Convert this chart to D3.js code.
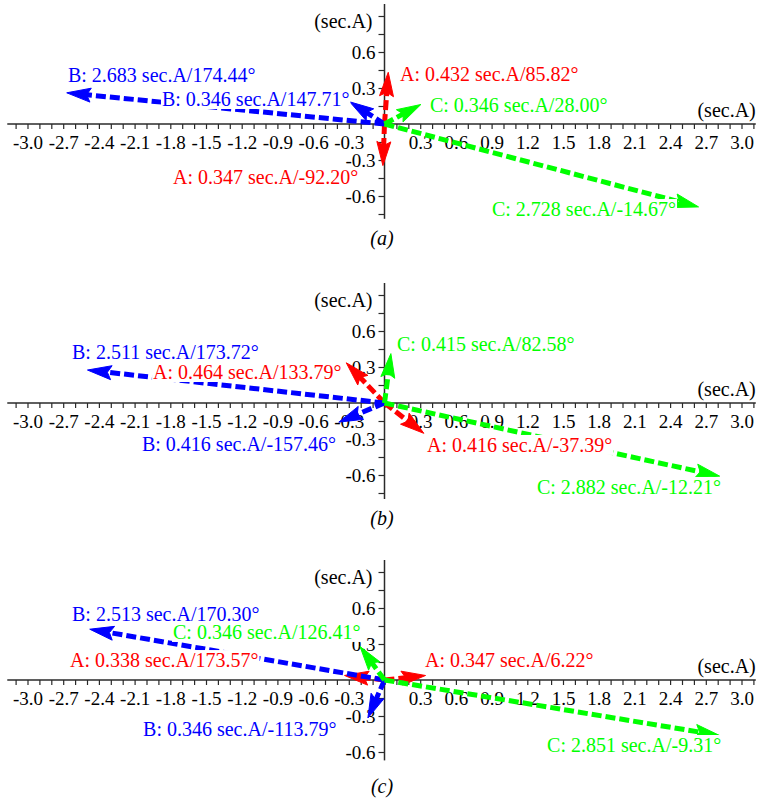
<!DOCTYPE html>
<html><head><meta charset="utf-8">
<script src="https://cdn.jsdelivr.net/npm/d3@7"></script>
<style>body{margin:0;background:#fff}</style>
</head><body>
<svg id="chart" width="760" height="800"></svg>
<script>
// ---------------- DATA ----------------
const panelCaptions = ["(a)", "(b)", "(c)"];
const vectorPhases = ["A", "A", "B", "B", "C", "C"];
// panel (a)
const magnitudesA = [0.432, 0.347, 2.683, 0.346, 0.346, 2.728];
const anglesA     = [85.82, -92.20, 174.44, 147.71, 28.00, -14.67];
// panel (b)
const magnitudesB = [0.464, 0.416, 2.511, 0.416, 0.415, 2.882];
const anglesB     = [133.79, -37.39, 173.72, -157.46, 82.58, -12.21];
// panel (c)
const magnitudesC = [0.338, 0.347, 2.513, 0.346, 0.346, 2.851];
const anglesC     = [173.57, 6.22, 170.30, -113.79, 126.41, -9.31];

const xTickLabels = ["-3.0","-2.7","-2.4","-2.1","-1.8","-1.5","-1.2","-0.9","-0.6","-0.3",
                     "0.3","0.6","0.9","1.2","1.5","1.8","2.1","2.4","2.7","3.0"];
const yTickLabels = ["0.6","0.3","-0.3","-0.6"];
const axisUnit = "(sec.A)";

// ---------------- LAYOUT ----------------
const panelAxisY = [124, 403, 680];
const panelYBottom = [-0.79, -0.80, -0.67];
const captionY = [245, 525, 793];
// label anchors (left, baseline) in data units
const labelAnchorsA = [[0.13,0.358],[-1.777,-0.5],[-2.66,0.35],[-1.87,0.15],[0.382,0.10],[0.903,-0.767]];
const labelAnchorsB = [[-1.945,0.2],[0.357,-0.408],[-2.626,0.367],[-2.038,-0.4],[0.105,0.433],[1.281,-0.758]];
const labelAnchorsC = [[-2.643,0.108],[0.34,0.108],[-2.626,0.492],[-2.029,-0.467],[-1.777,0.342],[1.366,-0.6]];

const phaseColor = {A: "#ff0000", B: "#0000ff", C: "#00ff00"};
const axisColor = "#2a2a2a";
const fontFamily = "'Liberation Serif','Times New Roman',serif";

const panels = [
  {mags: magnitudesA, angs: anglesA, anchors: labelAnchorsA},
  {mags: magnitudesB, angs: anglesB, anchors: labelAnchorsB},
  {mags: magnitudesC, angs: anglesC, anchors: labelAnchorsC}
];

const svg = d3.select("#chart");
svg.append("rect").attr("width", 760).attr("height", 800).attr("fill", "#fff");

const x = d3.scaleLinear().domain([-3, 3]).range([27.5, 741.5]);
const xAxisExtent = [-3.17, 3.12];
const xTicks = d3.range(-31, 32).map(i => i / 10);
const xTickValues = xTickLabels.map(Number);
const yTickValues = yTickLabels.map(Number);
const yTicksAll = d3.range(-6, 7).map(i => +(i * 0.15).toFixed(2));

panels.forEach((p, i) => {
  const y = d3.scaleLinear().domain([-1, 1]).range([panelAxisY[i] + 120, panelAxisY[i] - 120]);
  const g = svg.append("g");

  // x axis
  const xAxis = d3.axisBottom(x).tickValues(xTicks).tickSize(5).tickSizeOuter(0).tickPadding(7)
    .tickFormat(d => { const k = xTickValues.findIndex(v => Math.abs(v - d) < 1e-6); return k >= 0 ? xTickLabels[k] : ""; });
  const gx = g.append("g").attr("transform", `translate(0,${y(0)})`).call(xAxis);
  gx.select(".domain").remove();
  gx.append("line").attr("x1", x(xAxisExtent[0])).attr("x2", x(xAxisExtent[1]))
    .attr("stroke", axisColor).attr("stroke-width", 1.5);
  gx.selectAll(".tick line").attr("stroke", axisColor).attr("stroke-width", 1.2);
  gx.selectAll(".tick text").attr("font-family", fontFamily).attr("font-size", 19).attr("fill", "#000");

  // y axis
  const yTicks = yTicksAll.filter(v => v >= panelYBottom[i] && v <= 1);
  const yAxis = d3.axisLeft(y).tickValues(yTicks).tickSize(6).tickSizeOuter(0).tickPadding(3)
    .tickFormat(d => { const k = yTickValues.findIndex(v => Math.abs(v - d) < 1e-6); return k >= 0 ? yTickLabels[k] : ""; });
  const gy = g.append("g").attr("transform", `translate(${x(0)},0)`).call(yAxis);
  gy.select(".domain").remove();
  gy.append("line").attr("y1", y(1)).attr("y2", y(panelYBottom[i]))
    .attr("stroke", axisColor).attr("stroke-width", 1.5);
  gy.selectAll(".tick line").attr("stroke", axisColor).attr("stroke-width", 1.2);
  gy.selectAll(".tick text").attr("font-family", fontFamily).attr("font-size", 19).attr("fill", "#000");

  // axis unit labels
  g.append("text").attr("x", x(xAxisExtent[1])).attr("y", y(0) - 7).attr("text-anchor", "end")
    .attr("font-family", fontFamily).attr("font-size", 20).attr("fill", "#000").text(axisUnit);
  g.append("text").attr("x", x(0) - 12).attr("y", y(0.8)).attr("text-anchor", "end")
    .attr("font-family", fontFamily).attr("font-size", 20).attr("fill", "#000").text(axisUnit);

  // arrows
  const ox = x(0), oy = y(0);
  p.mags.forEach((m, j) => {
    const col = phaseColor[vectorPhases[j]];
    const a = p.angs[j] * Math.PI / 180;
    const tx = x(m * Math.cos(a)), ty = y(m * Math.sin(a));
    const dx = tx - ox, dy = ty - oy, len = Math.hypot(dx, dy);
    const ux = dx / len, uy = dy / len;
    const L = 24, W = 7;
    const bx = tx - ux * L, by = ty - uy * L;
    g.append("line").attr("x1", ox).attr("y1", oy)
      .attr("x2", tx - ux * L * 0.6).attr("y2", ty - uy * L * 0.6)
      .attr("stroke", col).attr("stroke-width", 5).attr("stroke-dasharray", "10,4");
    g.append("path")
      .attr("d", d3.line()([[tx, ty], [bx - uy * W, by + ux * W], [bx + ux * 4, by + uy * 4], [bx + uy * W, by - ux * W]]) + "Z")
      .attr("fill", col).attr("stroke", col).attr("stroke-width", 1);
  });

  // labels
  p.mags.forEach((m, j) => {
    const col = phaseColor[vectorPhases[j]];
    const [lx, ly] = p.anchors[j];
    const txt = `${vectorPhases[j]}: ${m.toFixed(3)} sec.A/${p.angs[j].toFixed(2)}°`;
    const lg = g.append("g");
    const t = lg.append("text").attr("x", x(lx)).attr("y", y(ly))
      .attr("font-family", fontFamily).attr("font-size", 20).attr("fill", col).text(txt);
    const bb = t.node().getBBox();
    lg.insert("rect", "text").attr("x", bb.x - 1).attr("y", y(ly) - 17)
      .attr("width", bb.width + 2).attr("height", 20).attr("fill", "#fff");
  });

  // caption
  svg.append("text").attr("x", 382).attr("y", captionY[i]).attr("text-anchor", "middle")
    .attr("font-family", fontFamily).attr("font-style", "italic").attr("font-size", 20)
    .attr("fill", "#000").text(panelCaptions[i]);
});
</script>
</body></html>
